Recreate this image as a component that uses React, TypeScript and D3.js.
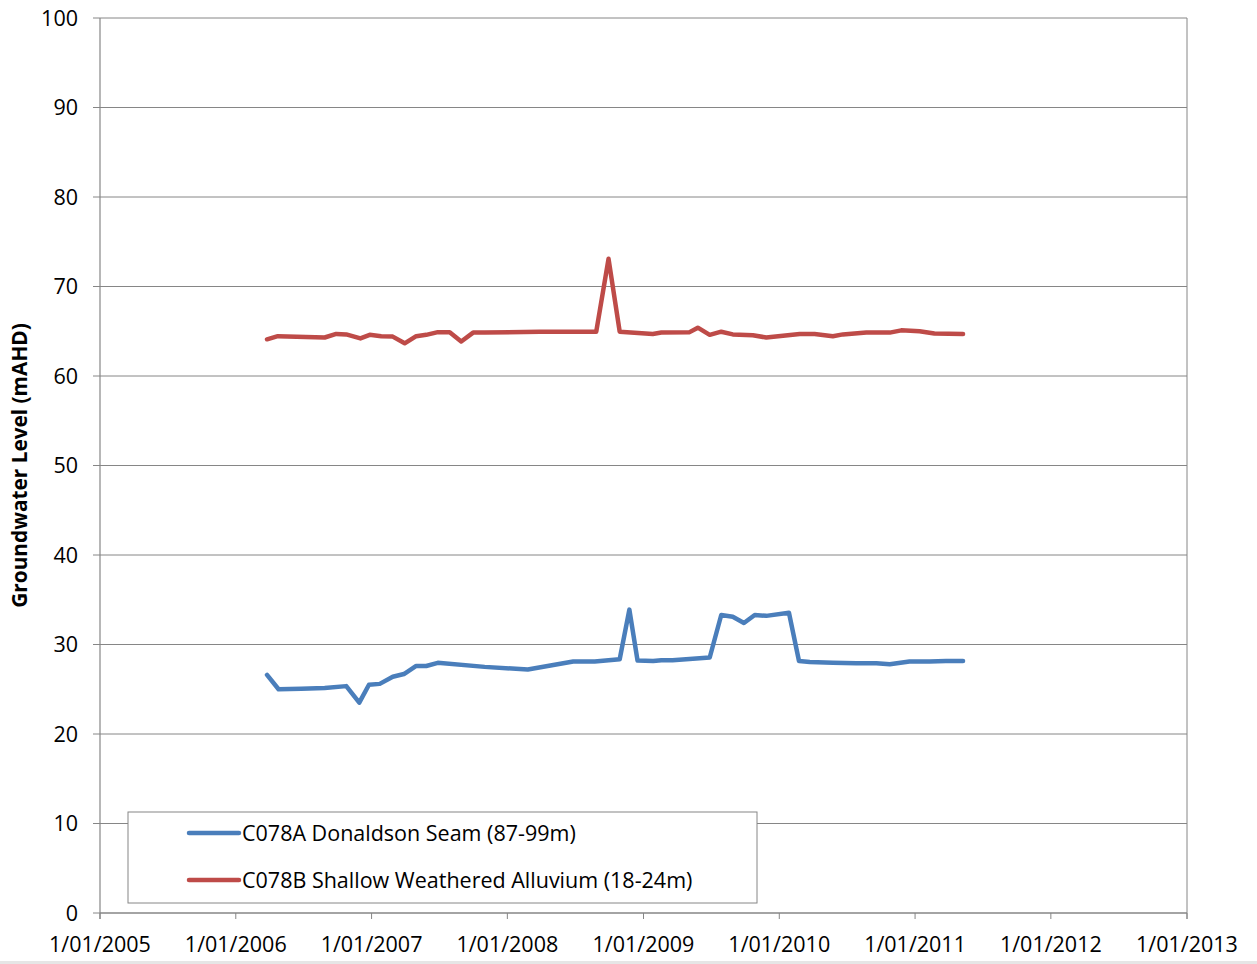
import React from "react";
import * as d3 from "d3";

// C078A Donaldson Seam (87-99m)
const seamDates = [
  "2006-03-26", "2006-04-26", "2006-06-26", "2006-08-28", "2006-10-25", "2006-11-29",
  "2006-12-25", "2007-01-23", "2007-02-27", "2007-03-29", "2007-05-01", "2007-05-28",
  "2007-06-28", "2007-11-01", "2008-02-25", "2008-06-26", "2008-08-23", "2008-10-29",
  "2008-11-24", "2008-12-16", "2009-01-27", "2009-02-18", "2009-03-20", "2009-06-28",
  "2009-07-29", "2009-08-29", "2009-09-28", "2009-10-27", "2009-11-27", "2010-01-27",
  "2010-02-23", "2010-03-24", "2010-05-25", "2010-07-27", "2010-09-19", "2010-10-25",
  "2010-12-17", "2011-02-09", "2011-03-25", "2011-05-10",
];
const seamLevels = [
  26.6, 25.0, 25.05, 25.15, 25.35, 23.5,
  25.5, 25.6, 26.4, 26.7, 27.6, 27.6,
  27.95, 27.5, 27.2, 28.1, 28.1, 28.35,
  33.9, 28.2, 28.15, 28.25, 28.25, 28.55,
  33.3, 33.1, 32.4, 33.3, 33.2, 33.55,
  28.15, 28.05, 27.95, 27.9, 27.9, 27.8,
  28.1, 28.1, 28.15, 28.15,
];

// C078B Shallow Weathered Alluvium (18-24m)
const alluviumDates = [
  "2006-03-26", "2006-04-24", "2006-08-28", "2006-09-28", "2006-10-25", "2006-12-02",
  "2006-12-27", "2007-01-27", "2007-02-27", "2007-03-31", "2007-05-01", "2007-05-28",
  "2007-06-28", "2007-07-30", "2007-08-30", "2007-10-01", "2007-11-01", "2008-03-28",
  "2008-08-27", "2008-09-29", "2008-10-29", "2009-01-26", "2009-02-18", "2009-05-05",
  "2009-05-27", "2009-06-28", "2009-07-29", "2009-08-29", "2009-10-22", "2009-11-27",
  "2010-02-25", "2010-04-06", "2010-05-25", "2010-06-21", "2010-08-23", "2010-10-25",
  "2010-11-25", "2011-01-13", "2011-02-22", "2011-05-10",
];
const alluviumLevels = [
  64.1, 64.45, 64.3, 64.7, 64.65, 64.2,
  64.6, 64.45, 64.4, 63.65, 64.45, 64.6,
  64.9, 64.9, 63.85, 64.85, 64.85, 64.95,
  64.95, 73.1, 64.95, 64.7, 64.85, 64.9,
  65.4, 64.6, 64.95, 64.65, 64.55, 64.3,
  64.7, 64.7, 64.45, 64.65, 64.85, 64.85,
  65.1, 65.0, 64.75, 64.7,
];

const xTickDates = [
  "2005-01-01", "2006-01-01", "2007-01-01", "2008-01-01", "2009-01-01",
  "2010-01-01", "2011-01-01", "2012-01-01", "2013-01-01",
];
const yTicks = [0, 10, 20, 30, 40, 50, 60, 70, 80, 90, 100];

const seriesNames = [
  "C078A Donaldson Seam (87-99m)",
  "C078B Shallow Weathered Alluvium (18-24m)",
];
const seriesColors = ["#4A7EBB", "#BE4B48"];
const yTitle = "Groundwater Level (mAHD)";

const W = 1257;
const H = 964;
const plot = { left: 100, right: 1187, top: 18, bottom: 913 };
const FONT = "'Open Sans', Lato, sans-serif";
const GRID = "#868686";

const parse = d3.utcParse("%Y-%m-%d");
const fmt = (d: Date) => `${d.getUTCDate()}/${String(d.getUTCMonth() + 1).padStart(2, "0")}/${d.getUTCFullYear()}`;

export default function App() {
  const x = d3
    .scaleUtc()
    .domain([parse(xTickDates[0])!, parse(xTickDates[xTickDates.length - 1])!])
    .range([plot.left, plot.right]);
  const y = d3.scaleLinear().domain([0, 100]).range([plot.bottom, plot.top]);

  const line = d3
    .line<[Date, number]>()
    .x((d) => x(d[0]))
    .y((d) => y(d[1]));

  const series = [
    seamDates.map((d, i) => [parse(d)!, seamLevels[i]] as [Date, number]),
    alluviumDates.map((d, i) => [parse(d)!, alluviumLevels[i]] as [Date, number]),
  ];

  const legend = { x: 128, y: 812, w: 629, h: 91 };

  return (
    <svg
      width={W}
      height={H}
      style={{ position: "absolute", left: 0, top: 0, background: "#fff" }}
      fontFamily={FONT}
    >
      <rect x={0} y={0} width={W} height={H} fill="#fff" />
      {/* horizontal gridlines with left tick marks */}
      {yTicks.map((t) => (
        <g key={t}>
          <line x1={plot.left - 7} x2={plot.right} y1={y(t)} y2={y(t)} stroke={GRID} strokeWidth={1} />
          <text x={78} y={y(t)} dy="0.35em" textAnchor="end" fontSize={21.5} fill="#000">
            {t}
          </text>
        </g>
      ))}
      {/* plot frame: left axis and right edge */}
      <line x1={plot.left} x2={plot.left} y1={plot.top} y2={plot.bottom + 6} stroke={GRID} strokeWidth={1.2} />
      <line x1={plot.right} x2={plot.right} y1={plot.top} y2={plot.bottom + 6} stroke={GRID} strokeWidth={1} />
      <line x1={plot.left} x2={plot.right} y1={plot.bottom} y2={plot.bottom} stroke={GRID} strokeWidth={1.2} />
      {xTickDates.map((s) => {
        const d = parse(s)!;
        return (
          <g key={s}>
            <line x1={x(d)} x2={x(d)} y1={plot.bottom} y2={plot.bottom + 6} stroke={GRID} strokeWidth={1} />
            <text x={x(d)} y={944} dy="0.35em" textAnchor="middle" fontSize={21.5} fill="#000">
              {fmt(d)}
            </text>
          </g>
        );
      })}
      {/* series lines */}
      {series.map((pts, i) => (
        <path
          key={i}
          d={line(pts) ?? ""}
          fill="none"
          stroke={seriesColors[i]}
          strokeWidth={4.5}
          strokeLinejoin="round"
          strokeLinecap="round"
        />
      ))}
      {/* y axis title */}
      <text
        transform={`translate(20,${(plot.top + plot.bottom) / 2}) rotate(-90)`}
        textAnchor="middle"
        dy="0.35em"
        fontSize={20.8}
        fontWeight="bold"
        fill="#000"
      >
        {yTitle}
      </text>
      {/* legend */}
      <rect x={legend.x} y={legend.y} width={legend.w} height={legend.h} fill="#fff" stroke={GRID} strokeWidth={1} />
      {seriesNames.map((name, i) => {
        const ly = 833 + i * 47;
        return (
          <g key={name}>
            <line x1={189} x2={239} y1={ly} y2={ly} stroke={seriesColors[i]} strokeWidth={4.5} strokeLinecap="round" />
            <text x={242} y={ly} dy="0.35em" fontSize={21.5} fill="#000">
              {name}
            </text>
          </g>
        );
      })}
      <rect x={0} y={961} width={W} height={3} fill="#e6e6e6" />
    </svg>
  );
}
